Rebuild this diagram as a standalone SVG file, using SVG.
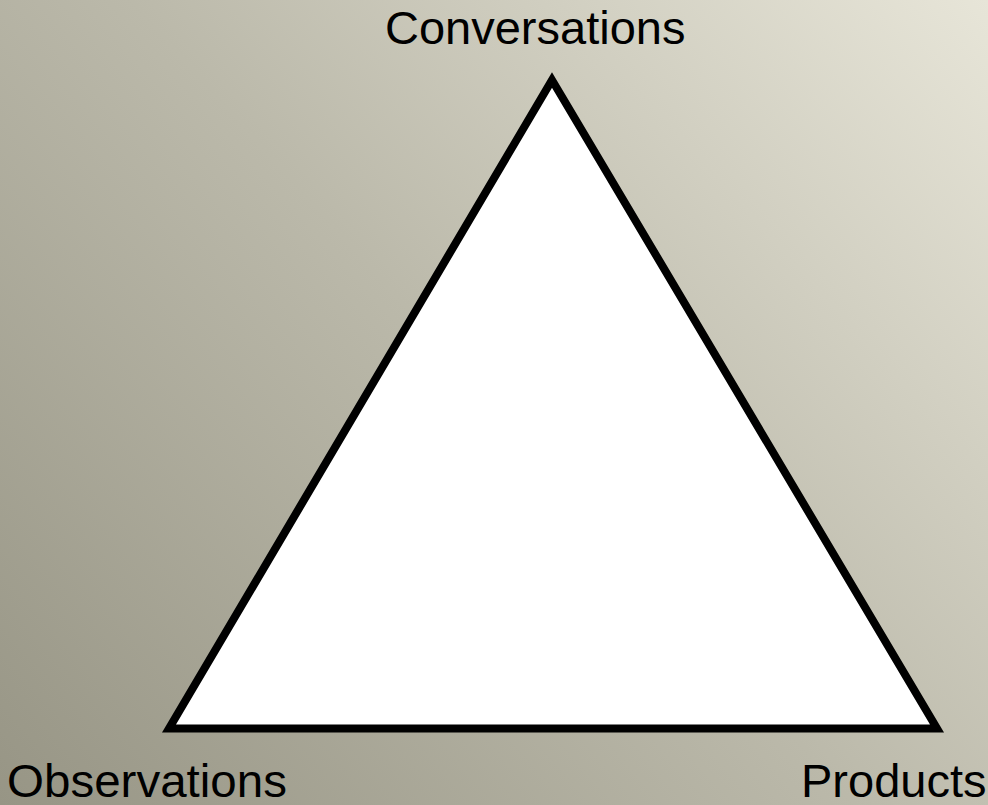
<svg xmlns="http://www.w3.org/2000/svg" width="988" height="805" viewBox="0 0 988 805">
  <defs>
    <!-- warm grey backdrop, darker at lower left, lighter at upper right -->
    <linearGradient id="bg" x1="0" y1="805" x2="945" y2="-46" gradientUnits="userSpaceOnUse">
      <stop offset="0" stop-color="#979585"/>
      <stop offset="0.5" stop-color="#bbb9aa"/>
      <stop offset="1" stop-color="#e7e5d8"/>
    </linearGradient>
    <style>
      .label { font-family: "Liberation Sans", Arial, sans-serif; font-size: 47px; fill: #000; }
      .tri { fill: #fff; stroke: #000; stroke-width: 8; stroke-linejoin: miter; }
    </style>
  </defs>
  <rect width="988" height="805" fill="url(#bg)"/>
  <g id="triangle">
    <polygon class="tri" points="552,80 169,728.5 937,728.5"/>
  </g>
  <g id="conversations">
    <text class="label" x="385" y="44">Conversations</text>
  </g>
  <g id="observations">
    <text class="label" x="7" y="797" textLength="280" lengthAdjust="spacingAndGlyphs">Observations</text>
  </g>
  <g id="products">
    <text class="label" x="801" y="797">Products</text>
  </g>
</svg>
